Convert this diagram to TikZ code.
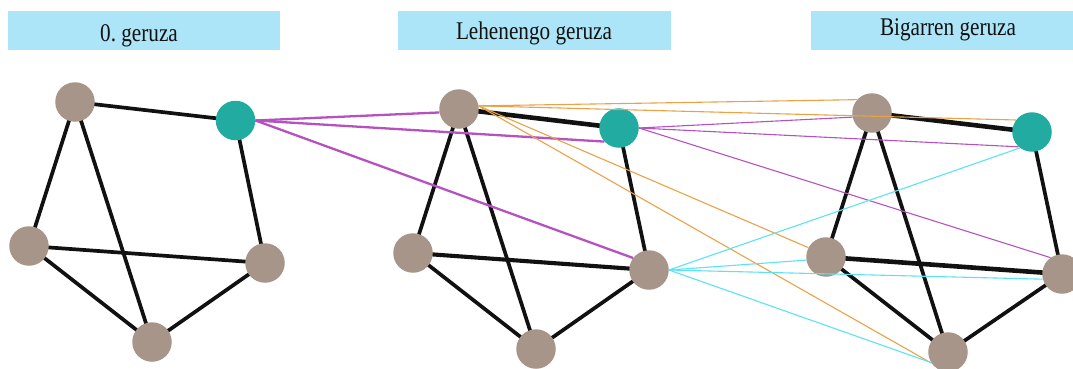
\documentclass[tikz,border=0pt]{standalone}
\usepackage{fontspec}
\setmainfont{Liberation Serif}
\definecolor{taupe}{RGB}{166,149,136}
\definecolor{tealnode}{RGB}{33,171,161}
\definecolor{titleblue}{RGB}{172,229,247}
\definecolor{linkblack}{RGB}{17,17,17}
\definecolor{mauve}{RGB}{182,82,192}
\definecolor{amber}{RGB}{233,162,70}
\definecolor{aqua}{RGB}{92,226,242}
\begin{document}
\begin{tikzpicture}[x=1pt,y=-1pt,
  vtx/.style={circle,fill=taupe,minimum size=39.5pt,inner sep=0pt},
  hub/.style={vtx,fill=tealnode},
  link/.style={draw=linkblack,line width=3.7pt},
  boldlink/.style={link,line width=4.6pt},
  titlebox/.style={fill=titleblue,minimum height=39pt,inner sep=0pt},
  titletext/.style={anchor=base,inner sep=0pt,text=linkblack,
    font=\fontsize{21.2}{25}\selectfont},
  jumpthick/.style={draw=mauve,line width=2.3pt},
  jumpmauve/.style={draw=mauve,line width=1.1pt},
  jumpamber/.style={draw=amber,line width=1.1pt},
  jumpaqua/.style={draw=aqua,line width=1.1pt},
]
\useasboundingbox (0,0) rectangle (1073,369);

% layer headings
\node[titlebox,minimum width=272pt] (box0) at (144,30.5) {};
\node[titlebox,minimum width=273pt] (box1) at (534.5,30.5) {};
\node[titlebox,minimum width=270pt] (box2) at (946,30.5) {};
\node[titletext] (lbl0) at (139,41.5) {\scalebox{1}[1.2]{0.\ geruza}};
\node[titletext] (lbl1) at (534,40) {\scalebox{1}[1.2]{Lehenengo geruza}};
\node[titletext] (lbl2) at (948,36) {\scalebox{1}[1.2]{Bigarren geruza}};

% vertex positions of the three layers
\coordinate (pA0) at (75,102);  \coordinate (pT0) at (235.5,120.5);
\coordinate (pL0) at (29,246);  \coordinate (pR0) at (265,263);
\coordinate (pB0) at (152,342);
\coordinate (pA1) at (459,109); \coordinate (pT1) at (619,128);
\coordinate (pL1) at (413,253); \coordinate (pR1) at (649,270);
\coordinate (pB1) at (536,349);
\coordinate (pA2) at (872,113); \coordinate (pT2) at (1032,132);
\coordinate (pL2) at (826,257); \coordinate (pR2) at (1062,274);
\coordinate (pB2) at (948,352);

% edges inside each layer
\draw[link] (pA0) -- (pT0);
\draw[link] (pA0) -- (pL0);
\draw[link] (pA0) -- (pB0);
\draw[link] (pT0) -- (pR0);
\draw[link] (pL0) -- (pR0);
\draw[link] (pL0) -- (pB0);
\draw[link] (pB0) -- (pR0);

\draw[boldlink] (pA1) -- (pT1);
\draw[link] (pA1) -- (pL1);
\draw[link] (pA1) -- (pB1);
\draw[link] (pT1) -- (pR1);
\draw[link,line width=4.1pt] (pL1) -- (pR1);
\draw[link] (pL1) -- (pB1);
\draw[link] (pB1) -- (pR1);

\draw[boldlink] (pA2) -- (pT2);
\draw[link] (pA2) -- (pL2);
\draw[link] (pA2) -- (pB2);
\draw[link] (pT2) -- (pR2);
\draw[boldlink] (pL2) -- (pR2);
\draw[link] (pL2) -- (pB2);
\draw[link] (pB2) -- (pR2);

% vertices
\foreach \k in {0,1,2}{
  \node[vtx] (A\k) at (pA\k) {};
  \node[hub] (T\k) at (pT\k) {};
  \node[vtx] (L\k) at (pL\k) {};
  \node[vtx] (R\k) at (pR\k) {};
  \node[vtx] (B\k) at (pB\k) {};
}

% links between layers
\draw[jumpthick] (T0.east) -- (A1.190);
\draw[jumpthick] (T0.east) -- (T1.223);
\draw[jumpthick] (T0.east) -- (R1.143);

\draw[jumpmauve] (T1.east) -- (A2.192);
\draw[jumpmauve] (T1.east) -- (T2.228);
\draw[jumpmauve] (T1.east) -- (R2.125);

\draw[jumpamber] (A1.9) -- (A2.138);
\draw[jumpamber] (A1.9) -- (T2.143);
\draw[jumpamber] (A1.9) -- (L2.152);
\draw[jumpamber] (A1.9) -- (B2.214);

\draw[jumpaqua] (R1.east) -- (T2.233);
\draw[jumpaqua] (R1.east) -- (L2.189);
\draw[jumpaqua] (R1.east) -- (R2.195);
\draw[jumpaqua] (R1.east) -- (B2.212);
\end{tikzpicture}
\end{document}
